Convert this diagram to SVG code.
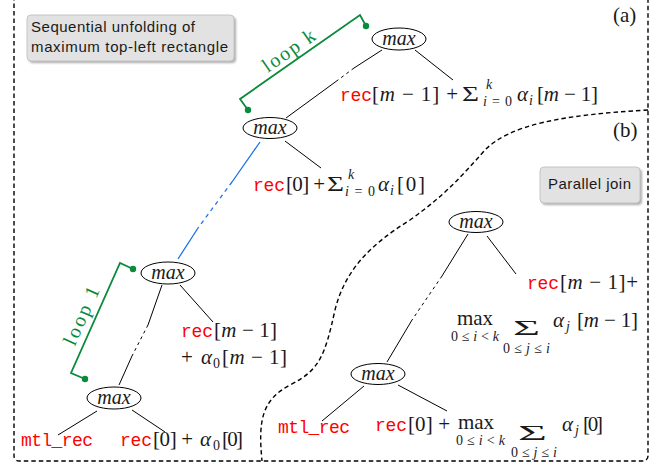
<svg xmlns="http://www.w3.org/2000/svg" width="665" height="467" viewBox="0 0 665 467">
<defs>
<style>
.bd{fill:none;stroke:#000;stroke-width:1.4;stroke-dasharray:4.5,3}
.e{fill:#fff;stroke:#000;stroke-width:1}
.ln{fill:none;stroke:#000;stroke-width:1}
.dl{stroke-dasharray:3,3.5}
.bl{fill:none;stroke:#1a73e8;stroke-width:1.3}
.gr{fill:none;stroke:#0a8a3c;stroke-width:1.8}
.gd{fill:#0a8a3c}
.m{font-family:'Liberation Serif','DejaVu Serif',serif;font-size:21px;fill:#1a1a1a}
.it{font-style:italic}
.s{font-size:14px}
.tt{font-family:'Liberation Mono',monospace;font-size:18px;fill:#ff0000}
.nl{font-family:'Liberation Serif','DejaVu Serif',serif;font-size:20px;font-style:italic;fill:#1a1a1a;text-anchor:middle}
.sf{font-family:'Liberation Sans',sans-serif;font-size:15px;fill:#1a1a1a}
.bx{fill:#e2e2e2;stroke:#c4c4c4;stroke-width:1}
.sh{fill:#8a8a8a;opacity:.7}
.gt{font-family:'Liberation Serif','DejaVu Serif',serif;font-size:20px;fill:#0a8a3c}
</style>
<filter id="blur" x="-10%" y="-10%" width="120%" height="130%"><feGaussianBlur stdDeviation="1"/></filter>
</defs>
<rect width="665" height="467" fill="#fff"/>

<g id="regions">
<rect class="bd" x="14" y="-20" width="634" height="481" rx="5"/>
<path class="bd" d="M648,110 C560,115 510,125 485,150 C460,178 445,195 410,220 C370,245 345,270 335,310 C325,355 320,370 290,385 C262,400 258,420 262,461"/>
<text class="m" x="613" y="22">(a)</text>
<text class="m" x="613" y="137">(b)</text>
</g>

<g id="box-seq">
<rect class="sh" x="29" y="17" width="207" height="46" rx="4" filter="url(#blur)"/>
<rect class="bx" x="27" y="15" width="207" height="46" rx="4"/>
<text class="sf" x="31" y="32" textLength="164">Sequential unfolding of</text>
<text class="sf" x="31" y="52" textLength="197">maximum top-left rectangle</text>
</g>

<g id="box-par">
<rect class="sh" x="542" y="169" width="100" height="36" rx="4" filter="url(#blur)"/>
<rect class="bx" x="540" y="167" width="100" height="36" rx="4"/>
<text class="sf" x="548" y="189" textLength="83">Parallel join</text>
</g>

<g id="connectors">
<path class="ln" d="M382,50 L354,68 M338,80 L286,118"/>
<path class="ln dl" d="M354,68 L338,80"/>
<path class="ln" d="M415,50 L453,80"/>
<path class="ln" d="M285,141 L321,168"/>
<path class="bl" d="M260,142 L232,182 M198,228 L178,259"/>
<path class="bl" d="M232,182 L198,228" stroke-dasharray="4,4"/>
<path class="ln" d="M162,285 L148,325 M132,356 L119,385"/>
<path class="ln dl" d="M148,325 L132,356"/>
<path class="ln" d="M180,285 L213,322"/>
<path class="ln" d="M97,411 L58,435"/>
<path class="ln" d="M132,410 L165,432"/>
<path class="ln" d="M468,234 L442,276 M412,320 L387,362"/>
<path class="ln dl" d="M442,276 L412,320"/>
<path class="ln" d="M487,236 L516,274"/>
<path class="ln" d="M364,386 L322,421"/>
<path class="ln" d="M398,385 L447,411"/>
</g>

<g id="loop-k">
<path class="gr" d="M248,110 L240,99 L360,15 L366,26"/>
<circle class="gd" cx="248" cy="110" r="3.2"/>
<circle class="gd" cx="366" cy="26" r="3.2"/>
<text class="gt" transform="translate(289,51) rotate(-35)" text-anchor="middle" y="6" textLength="60">loop k</text>
</g>

<g id="loop-1">
<path class="gr" d="M85,379 L71,373 L120,263 L133,269"/>
<circle class="gd" cx="85" cy="379" r="3.2"/>
<circle class="gd" cx="133" cy="269" r="3.2"/>
<text class="gt" transform="translate(82,316) rotate(-66)" text-anchor="middle" y="6" textLength="62">loop 1</text>
</g>

<g id="n-a-top">
<ellipse class="e" cx="399" cy="39" rx="27" ry="11"/>
<text class="nl" x="399" y="45">max</text>
</g>
<g id="n-a-k0">
<ellipse class="e" cx="270" cy="128" rx="27" ry="10.5"/>
<text class="nl" x="270" y="134">max</text>
</g>
<g id="n-a-1">
<ellipse class="e" cx="168" cy="273" rx="27" ry="11"/>
<text class="nl" x="168" y="279">max</text>
</g>
<g id="n-a-bot">
<ellipse class="e" cx="114" cy="398" rx="27" ry="11"/>
<text class="nl" x="114" y="404">max</text>
</g>
<g id="n-b-top">
<ellipse class="e" cx="476" cy="222" rx="27" ry="10.5"/>
<text class="nl" x="476" y="228">max</text>
</g>
<g id="n-b-bot">
<ellipse class="e" cx="378" cy="374" rx="27" ry="10.5"/>
<text class="nl" x="378" y="380">max</text>
</g>

<g id="lbl-a1">
<text class="tt" x="340" y="101" textLength="32">rec</text>
<text class="m" x="372" y="101" textLength="86">[<tspan class="it">m</tspan> − 1] +</text>
<text class="m" x="462" y="101" font-size="27" textLength="17" lengthAdjust="spacingAndGlyphs">Σ</text>
<text class="m s it" x="486" y="89">k</text>
<text class="m s" x="483" y="106" textLength="29"><tspan class="it">i</tspan>=0</text>
<text class="m it" x="517" y="101">α</text>
<text class="m s it" x="529" y="105">i</text>
<text class="m" x="537" y="101" textLength="61">[<tspan class="it">m</tspan> − 1]</text>
</g>

<g id="lbl-a2">
<text class="tt" x="253" y="191" textLength="32">rec</text>
<text class="m" x="286" y="191" textLength="39">[0] +</text>
<text class="m" x="327" y="191" font-size="27" textLength="17" lengthAdjust="spacingAndGlyphs">Σ</text>
<text class="m s it" x="348" y="179">k</text>
<text class="m s" x="345" y="196" textLength="30"><tspan class="it">i</tspan>=0</text>
<text class="m it" x="378" y="191">α</text>
<text class="m s it" x="390" y="195">i</text>
<text class="m" x="397" y="191" textLength="28">[0]</text>
</g>

<g id="lbl-a3">
<text class="tt" x="181" y="337" textLength="32">rec</text>
<text class="m" x="214" y="337" textLength="63">[<tspan class="it">m</tspan> − 1]</text>
<text class="m" x="181" y="364">+</text>
<text class="m it" x="201" y="364">α</text>
<text class="m s" x="213" y="368">0</text>
<text class="m" x="222" y="364" textLength="65">[<tspan class="it">m</tspan> − 1]</text>
</g>

<g id="lbl-a4">
<text class="tt" x="21" y="446" textLength="72">mtl_rec</text>
</g>

<g id="lbl-a5">
<text class="tt" x="120" y="446" textLength="32">rec</text>
<text class="m" x="153" y="446" textLength="40">[0] +</text>
<text class="m it" x="200" y="446">α</text>
<text class="m s" x="213" y="450">0</text>
<text class="m" x="222" y="446" textLength="21">[0]</text>
</g>

<g id="lbl-b1">
<text class="tt" x="527" y="289" textLength="32">rec</text>
<text class="m" x="560" y="289" textLength="78">[<tspan class="it">m</tspan> − 1]+</text>
</g>

<g id="lbl-b2">
<text class="m" x="457" y="325" textLength="36">max</text>
<text class="m s" x="451" y="341" textLength="48">0≤<tspan class="it">i</tspan>&lt;<tspan class="it">k</tspan></text>
<text class="m" x="513" y="335" font-size="33" textLength="27" lengthAdjust="spacingAndGlyphs">Σ</text>
<text class="m s" x="503" y="353" textLength="47">0≤<tspan class="it">j</tspan>≤<tspan class="it">i</tspan></text>
<text class="m it" x="553" y="327">α</text>
<text class="m s it" x="566" y="331">j</text>
<text class="m" x="577" y="327" textLength="61">[<tspan class="it">m</tspan> − 1]</text>
</g>

<g id="lbl-b3">
<text class="tt" x="278" y="433" textLength="72">mtl_rec</text>
</g>

<g id="lbl-b4">
<text class="tt" x="375" y="431" textLength="32">rec</text>
<text class="m" x="408" y="431" textLength="42">[0] +</text>
<text class="m" x="458" y="429" textLength="36">max</text>
<text class="m s" x="456" y="445" textLength="49">0≤<tspan class="it">i</tspan>&lt;<tspan class="it">k</tspan></text>
<text class="m" x="518" y="440" font-size="33" textLength="29" lengthAdjust="spacingAndGlyphs">Σ</text>
<text class="m s" x="511" y="457" textLength="46">0≤<tspan class="it">j</tspan>≤<tspan class="it">i</tspan></text>
<text class="m it" x="562" y="431">α</text>
<text class="m s it" x="575" y="435">j</text>
<text class="m" x="583" y="431" textLength="20">[0]</text>
</g>
</svg>
